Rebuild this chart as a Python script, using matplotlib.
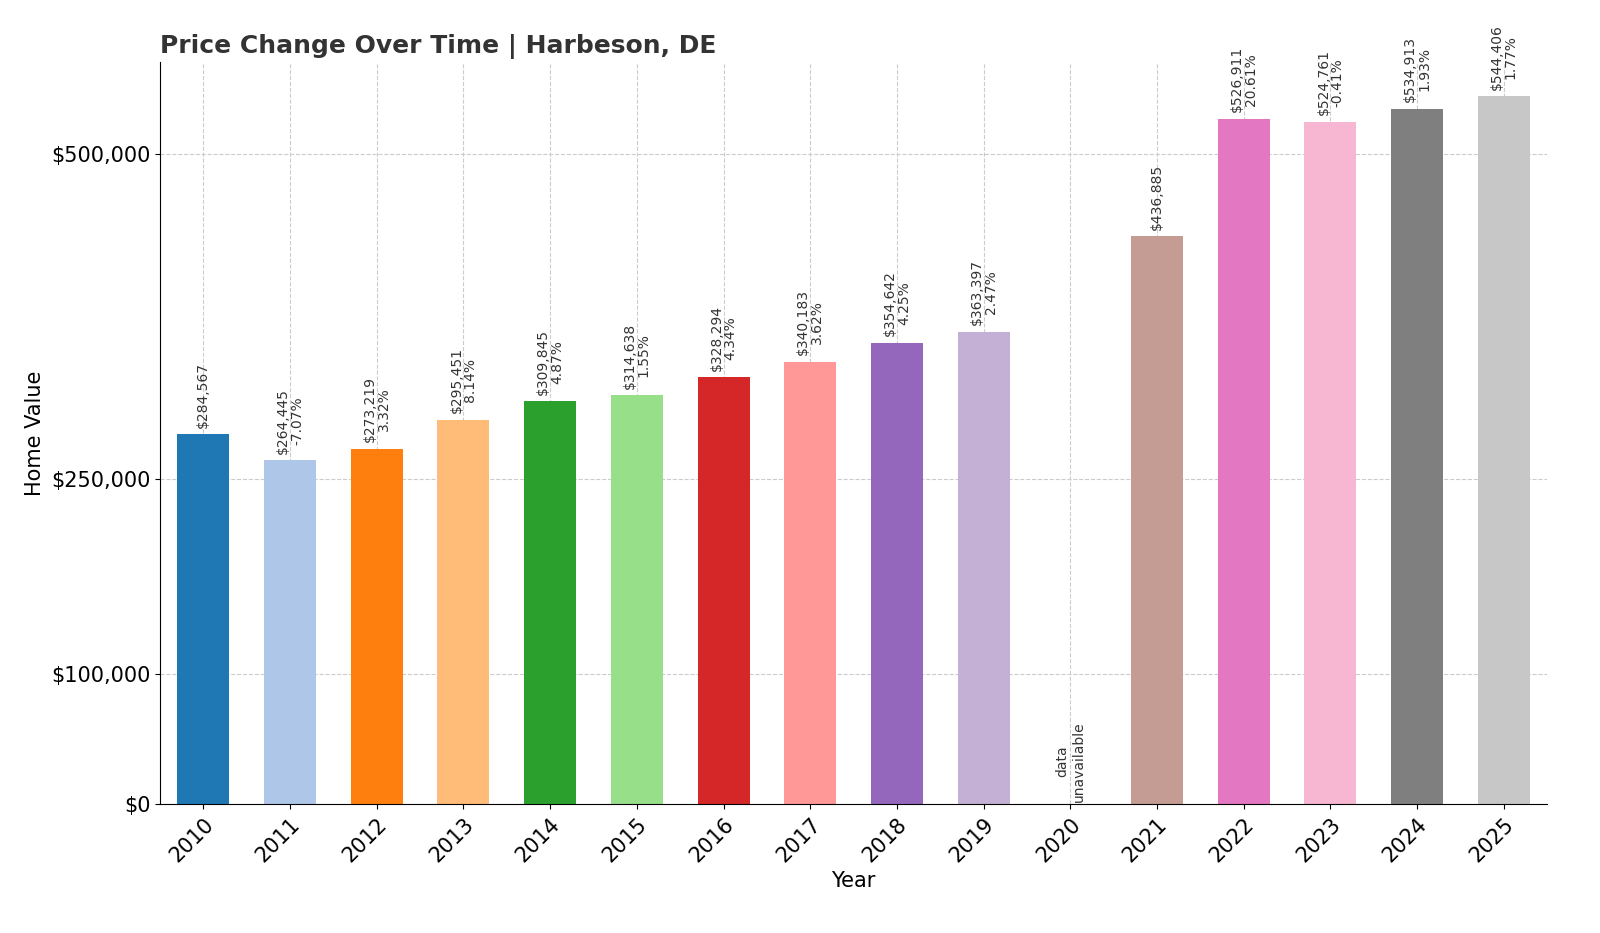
import matplotlib
matplotlib.use("Agg")
import matplotlib.pyplot as plt
import numpy as np

years = ["2010","2011","2012","2013","2014","2015","2016","2017","2018","2019","2020","2021","2022","2023","2024","2025"]
values = [284567,264445,273219,295451,309845,314638,328294,340183,354642,363397,None,436885,526911,524761,534913,544406]
pcts = [None,"-7.07%","3.32%","8.14%","4.87%","1.55%","4.34%","3.62%","4.25%","2.47%",None,None,"20.61%","-0.41%","1.93%","1.77%"]
yticks = [0,100000,250000,500000]
ytick_labels = ["$0","$100,000","$250,000","$500,000"]

cmap = plt.get_cmap("tab20")
fig = plt.figure(figsize=(16,9.33), dpi=100)
ax = fig.add_axes([0.1,0.138,0.867,0.796])
x = np.arange(len(years))
for i,v in enumerate(values):
    if v is None:
        ax.text(i,2000,"data\nunavailable",rotation=90,ha="center",va="bottom",fontsize=10,color="#333")
        continue
    ax.bar(i,v,width=0.6,color=cmap(i % 20),zorder=2)
    lbl = f"${v:,}" + (f"\n{pcts[i]}" if pcts[i] else "")
    ax.text(i,v+5000,lbl,rotation=90,ha="center",va="bottom",fontsize=10,color="#333",linespacing=1.0)
ax.set_xticks(x)
ax.set_xticklabels(years,rotation=45,ha="right",rotation_mode="anchor",fontsize=15)
ax.set_yticks(yticks)
ax.set_yticklabels(ytick_labels,fontsize=15)
ax.set_ylim(0,571000)
ax.set_xlim(-0.5,15.5)
ax.grid(True,linestyle="--",color="#cccccc",zorder=0)
ax.set_axisbelow(True)
for s in ["top","right"]:
    ax.spines[s].set_visible(False)
ax.set_xlabel("Year",fontsize=15)
ax.set_ylabel("Home Value",fontsize=15)
ax.set_title("Price Change Over Time | Harbeson, DE",loc="left",fontsize=18,fontweight="bold",color="#333")
fig.savefig("out.png")
